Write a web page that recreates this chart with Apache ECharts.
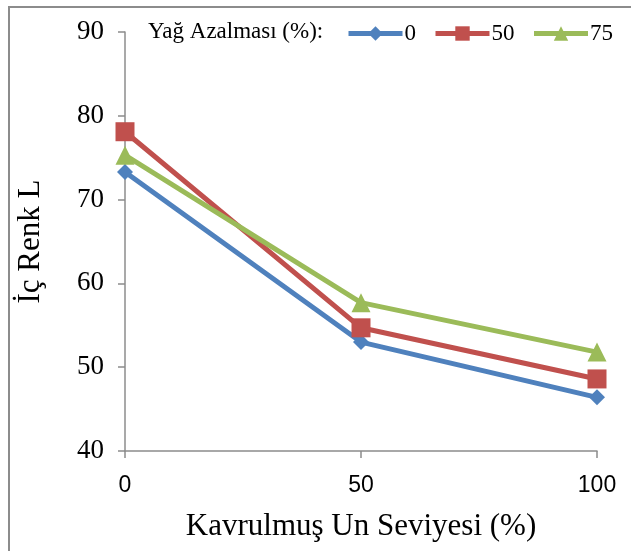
<!DOCTYPE html>
<html>
<head>
<meta charset="utf-8">
<script src="https://cdn.jsdelivr.net/npm/echarts@6/dist/echarts.min.js"></script>
<style>
    html, body { margin: 0; padding: 0; background: #fff; }
    #chart { width: 631px; height: 551px; }
</style>
</head>
<body>
<div id="chart"></div>
<script>
// roasted flour level (%)
const levels = [0, 50, 100];
const seriesNames = ['0', '50', '75'];
const fat0 = [73.3, 53.0, 46.4];
const fat50 = [78.1, 54.7, 48.6];
const fat75 = [75.3, 57.7, 51.8];
const yTicks = [40, 50, 60, 70, 80, 90];

const colors = ['#4F81BD', '#C0504D', '#9BBB59'];
const symbols = ['diamond', 'rect', 'triangle'];
const symbolSizes = [16, 19, 19];
const values = [fat0, fat50, fat75];
const serif = '"Liberation Serif", "Times New Roman", serif';

const chart = echarts.init(document.getElementById('chart'));

const option = {
    animation: false,
    color: colors,
    grid: {
        left: 125,
        right: 34,
        top: 32,
        bottom: 100
    },
    graphic: [
        {
            type: 'rect',
            shape: { x: 9, y: 7, width: 640, height: 560 },
            style: { fill: 'none', stroke: '#8c8c8c', lineWidth: 2 },
            silent: true
        },
        {
            type: 'text',
            left: 148,
            top: 20,
            style: {
                text: 'Yağ Azalması (%):',
                font: '23px ' + serif,
                fill: '#000'
            }
        }
    ],
    legend: {
        left: 341,
        top: 17,
        itemWidth: 54,
        itemHeight: 18,
        itemGap: 17,
        lineStyle: { width: 5 },
        textStyle: {
            fontFamily: serif,
            fontSize: 23,
            color: '#000',
            padding: [0, 0, 0, -3]
        },
        data: seriesNames
    },
    xAxis: {
        type: 'value',
        min: 0,
        max: 100,
        interval: 50,
        name: 'Kavrulmuş Un Seviyesi (%)',
        nameLocation: 'middle',
        nameGap: 60,
        nameTextStyle: {
            fontFamily: serif,
            fontSize: 31,
            color: '#000'
        },
        axisLine: { show: true, lineStyle: { color: '#8c8c8c', width: 1.5 } },
        axisTick: { show: true, length: 7, lineStyle: { color: '#8c8c8c', width: 1.5 } },
        axisLabel: {
            margin: 23,
            fontFamily: '"Liberation Sans", Arial, sans-serif',
            fontSize: 23,
            color: '#000'
        },
        splitLine: { show: false }
    },
    yAxis: {
        type: 'value',
        min: yTicks[0],
        max: yTicks[yTicks.length - 1],
        interval: 10,
        name: 'İç Renk L',
        nameLocation: 'middle',
        nameGap: 79,
        nameTextStyle: {
            fontFamily: serif,
            fontSize: 31,
            color: '#000'
        },
        axisLine: { show: true, lineStyle: { color: '#8c8c8c', width: 1.5 } },
        axisTick: { show: true, length: 7, lineStyle: { color: '#8c8c8c', width: 1.5 } },
        axisLabel: {
            margin: 21,
            fontFamily: serif,
            fontSize: 27,
            color: '#000'
        },
        splitLine: { show: false }
    },
    series: seriesNames.map((name, i) => ({
        name: name,
        type: 'line',
        data: levels.map((x, j) => [x, values[i][j]]),
        symbol: symbols[i],
        symbolSize: symbolSizes[i],
        showAllSymbol: true,
        lineStyle: { width: 5, color: colors[i] },
        itemStyle: { color: colors[i] }
    }))
};

chart.setOption(option);
</script>
</body>
</html>
